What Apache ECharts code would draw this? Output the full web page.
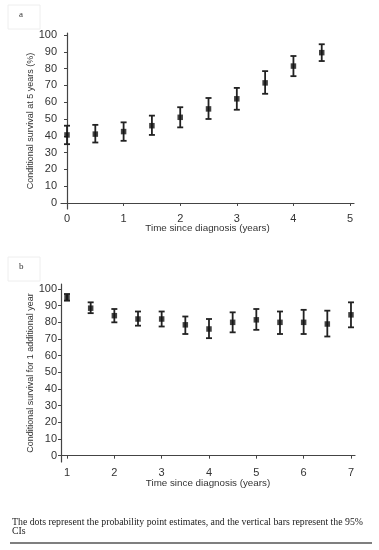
<!DOCTYPE html>
<html><head><meta charset="utf-8">
<script src="https://cdn.jsdelivr.net/npm/echarts@6/dist/echarts.min.js"></script>
<style>html,body{margin:0;padding:0;background:#fff}#c{width:379px;height:550px}</style>
</head><body><div id="c"></div>
<script>
// Panel a: conditional survival at 5 years (%)
const timesA = [0, 0.5, 1, 1.5, 2, 2.5, 3, 3.5, 4, 4.5];
const estA   = [40.5, 41, 42.5, 46, 51, 56, 62, 71.5, 81.5, 89.5];
const lowA   = [35, 36, 37, 40.5, 45, 50, 55.5, 65, 75.5, 84.5];
const highA  = [46, 46.5, 48, 52, 57, 62.5, 68.5, 78.5, 87.5, 94.5];
const xTicksA = [0, 1, 2, 3, 4, 5];

// Panel b: conditional survival for 1 additional year (%)
const timesB = [1, 1.5, 2, 2.5, 3, 3.5, 4, 4.5, 5, 5.5, 6, 6.5, 7];
const estB   = [95, 88.5, 84, 82, 82, 78.5, 76, 80, 81.5, 80, 80, 79, 84.5];
const lowB   = [93, 85.5, 80, 78, 77.5, 73, 70.5, 74, 75.5, 73, 73, 71.5, 77];
const highB  = [97, 92, 88, 86.5, 86.5, 83.5, 82, 86, 88, 86.5, 87.5, 87, 92];
const xTicksB = [1, 2, 3, 4, 5, 6, 7];

const yTicks = [0, 10, 20, 30, 40, 50, 60, 70, 80, 90, 100];

const FONT = '"Liberation Sans", Arial, sans-serif';
const SERIF = '"Liberation Serif", "Times New Roman", serif';
const AX = '#444';

function errData(t, lo, hi) { return t.map((x, i) => [x, lo[i], hi[i]]); }
function ptData(t, e) { return t.map((x, i) => [x, e[i]]); }

function renderErr(params, api) {
  const x = api.value(0);
  const p1 = api.coord([x, api.value(1)]);
  const p2 = api.coord([x, api.value(2)]);
  const w = 3;
  const st = { stroke: '#222', lineWidth: 1.8 };
  return {
    type: 'group',
    children: [
      { type: 'line', shape: { x1: p1[0], y1: p1[1], x2: p2[0], y2: p2[1] }, style: st },
      { type: 'line', shape: { x1: p1[0] - w, y1: p1[1], x2: p1[0] + w, y2: p1[1] }, style: st },
      { type: 'line', shape: { x1: p2[0] - w, y1: p2[1], x2: p2[0] + w, y2: p2[1] }, style: st }
    ]
  };
}

function xAxisDef(gi, min, max, ticks, nameGap, labelMargin) {
  return {
    gridIndex: gi, type: 'value', min: min, max: max,
    name: 'Time since diagnosis (years)', nameLocation: 'middle', nameGap: nameGap,
    nameMoveOverlap: false,
    nameTextStyle: { fontFamily: FONT, fontSize: 9.8, color: '#333' },
    axisLine: { show: true, lineStyle: { color: AX, width: 1.2 } },
    axisTick: { show: true, length: 3, lineStyle: { color: AX }, customValues: ticks },
    axisLabel: { fontFamily: FONT, fontSize: 11, color: '#333', margin: labelMargin, customValues: ticks },
    splitLine: { show: false }
  };
}
function yAxisDef(gi, min, max, name) {
  return {
    gridIndex: gi, type: 'value', min: min, max: max,
    name: name, nameLocation: 'middle', nameGap: 26, nameRotate: 90,
    nameMoveOverlap: false,
    nameTextStyle: { fontFamily: FONT, fontSize: 9, color: '#333' },
    axisLine: { show: true, lineStyle: { color: AX, width: 1.2 } },
    axisTick: { show: true, length: 3, lineStyle: { color: AX }, customValues: yTicks },
    axisLabel: { fontFamily: FONT, fontSize: 11, color: '#333', margin: 4, customValues: yTicks },
    splitLine: { show: false }
  };
}

const chart = echarts.init(document.getElementById('c'), null, { renderer: 'canvas' });
chart.setOption({
  animation: false,
  backgroundColor: '#fff',
  grid: [
    { left: 61, right: 25, top: 33, bottom: 341 },
    { left: 61, right: 24, top: 284, bottom: 88 }
  ],
  xAxis: [
    xAxisDef(0, -0.106, 5.07, xTicksA, 14, 4),
    xAxisDef(1, 0.873, 7.085, xTicksB, 16, 5)
  ],
  yAxis: [
    yAxisDef(0, -3.6, 101.2, 'Conditional survival at 5 years (%)'),
    yAxisDef(1, -3.8, 103, 'Conditional survival for 1 additional year')
  ],
  series: [
    { type: 'custom', xAxisIndex: 0, yAxisIndex: 0, renderItem: renderErr, data: errData(timesA, lowA, highA), z: 2 },
    { type: 'scatter', xAxisIndex: 0, yAxisIndex: 0, symbol: 'rect', symbolSize: 5.5, itemStyle: { color: '#111' }, data: ptData(timesA, estA), z: 3 },
    { type: 'custom', xAxisIndex: 1, yAxisIndex: 1, renderItem: renderErr, data: errData(timesB, lowB, highB), z: 2 },
    { type: 'scatter', xAxisIndex: 1, yAxisIndex: 1, symbol: 'rect', symbolSize: 5.5, itemStyle: { color: '#111' }, data: ptData(timesB, estB), z: 3 }
  ],
  graphic: [
    { type: 'rect', shape: { x: 8, y: 5, width: 32, height: 24 }, style: { fill: 'none', stroke: '#eee', lineWidth: 1 } },
    { type: 'text', x: 19, y: 10, style: { text: 'a', font: '9px ' + SERIF, fill: '#333' } },
    { type: 'rect', shape: { x: 8, y: 257, width: 32, height: 24 }, style: { fill: 'none', stroke: '#eee', lineWidth: 1 } },
    { type: 'text', x: 19, y: 262, style: { text: 'b', font: '9px ' + SERIF, fill: '#333' } },
    { type: 'text', x: 12, y: 518, style: { text: 'The dots represent the probability point estimates, and the vertical bars represent the 95%\nCIs', font: '9.8px ' + SERIF, fill: '#222', lineHeight: 9 } },
    { type: 'line', shape: { x1: 10, y1: 543, x2: 372, y2: 543 }, style: { stroke: '#555', lineWidth: 1.5 } }
  ]
});
</script></body></html>
